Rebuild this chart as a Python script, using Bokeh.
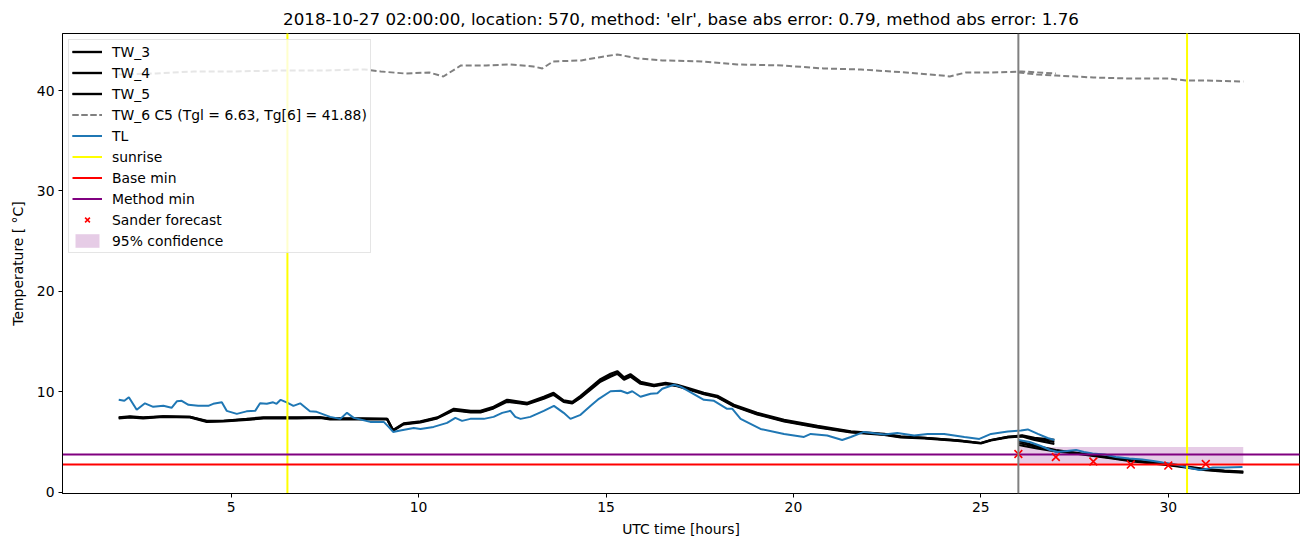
from bokeh.plotting import figure
from bokeh.models import Legend, LegendItem, Range1d, FixedTicker, Span
from bokeh.embed import file_html
from bokeh.resources import INLINE

title_text = "2018-10-27 02:00:00, location: 570, method: 'elr', base abs error: 0.79, method abs error: 1.76"

# ---- observed road/air temperatures (hours UTC) ----
tw_t = [2.0, 2.3, 2.65, 3.19, 3.9, 4.35, 4.8, 5.41, 5.86, 6.75, 7.37, 7.64, 8.5, 9.16, 9.32, 9.6,
        10.05, 10.5, 10.94, 11.39, 11.65, 12.0, 12.36, 12.72, 12.9, 13.34, 13.6, 13.87, 14.1, 14.32,
        14.59, 14.85, 15.12, 15.3, 15.48, 15.65, 15.92, 16.28, 16.59, 16.9, 17.26, 17.61, 17.97,
        18.41, 19.03, 19.75, 20.64, 21.53, 22.42, 22.86, 23.49, 24.38, 25.0, 25.27, 25.72, 26.1,
        26.43, 26.96]
tw3 = [7.4, 7.5, 7.4, 7.55, 7.5, 7.05, 7.1, 7.25, 7.4, 7.4, 7.45, 7.3, 7.3, 7.3, 6.15, 6.8,
       7.0, 7.4, 8.2, 8.0, 8.0, 8.4, 9.1, 8.9, 8.8, 9.4, 9.8, 9.06, 8.9, 9.45,
       10.3, 11.1, 11.6, 11.9, 11.3, 11.6, 10.9, 10.6, 10.8, 10.6, 10.2, 9.8, 9.5,
       8.6, 7.8, 7.1, 6.5, 6.0, 5.75, 5.5, 5.4, 5.15, 4.9, 5.2, 5.5, 5.65,
       5.4, 5.2]
tw4 = [7.45, 7.55, 7.45, 7.55, 7.5, 7.1, 7.1, 7.3, 7.45, 7.45, 7.45, 7.35, 7.35, 7.3, 6.2, 6.85,
       7.05, 7.45, 8.3, 8.1, 8.1, 8.5, 9.2, 9.0, 8.9, 9.5, 9.9, 9.15, 9.0, 9.6,
       10.45, 11.25, 11.8, 12.05, 11.45, 11.75, 11.0, 10.7, 10.9, 10.7, 10.3, 9.9, 9.6,
       8.7, 7.9, 7.2, 6.6, 6.05, 5.8, 5.55, 5.4, 5.15, 4.9, 5.2, 5.5, 5.6,
       5.3, 5.0]
tw5 = [7.35, 7.45, 7.35, 7.5, 7.45, 7.0, 7.05, 7.2, 7.35, 7.35, 7.4, 7.25, 7.25, 7.25, 6.1, 6.75,
       6.95, 7.35, 8.15, 7.95, 7.95, 8.35, 9.0, 8.85, 8.75, 9.3, 9.7, 9.0, 8.85, 9.4,
       10.2, 11.0, 11.5, 11.8, 11.2, 11.5, 10.8, 10.55, 10.75, 10.55, 10.15, 9.75, 9.45,
       8.55, 7.75, 7.05, 6.45, 5.95, 5.7, 5.45, 5.35, 5.1, 4.85, 5.15, 5.45, 5.55,
       5.2, 4.8]

tw6_t = [2.0, 3.0, 4.0, 5.0, 6.4, 7.5, 8.56, 8.99, 9.63, 10.28, 10.66, 11.13, 11.8, 12.41, 13.06,
         13.3, 13.59, 14.34, 14.8, 15.3, 15.84, 16.5, 17.55, 18.5, 19.7, 20.8, 21.8, 23.0, 23.96,
         24.17, 24.6, 25.3, 26.1, 27.0]
tw6 = [41.6, 41.7, 41.9, 41.9, 42.0, 42.0, 42.1, 41.9, 41.7, 41.8, 41.4, 42.5, 42.5, 42.6, 42.4,
       42.2, 42.9, 43.0, 43.3, 43.6, 43.2, 43.0, 42.9, 42.6, 42.5, 42.2, 42.1, 41.8, 41.5,
       41.4, 41.8, 41.8, 41.9, 41.7]

tl_t = [2.0, 2.15, 2.27, 2.48, 2.7, 2.92, 3.19, 3.41, 3.55, 3.68, 3.86, 4.12, 4.39, 4.52, 4.75,
        4.88, 5.15, 5.41, 5.64, 5.77, 5.95, 6.12, 6.21, 6.32, 6.48, 6.66, 6.84, 7.1, 7.28, 7.46,
        7.64, 7.91, 8.09, 8.27, 8.71, 9.07, 9.2, 9.32, 9.51, 9.87, 10.05, 10.4, 10.76, 10.98,
        11.16, 11.38, 11.74, 12.0, 12.23, 12.45, 12.58, 12.72, 12.98, 13.34, 13.61, 13.87, 14.05,
        14.32, 14.59, 14.81, 15.12, 15.39, 15.57, 15.7, 15.92, 16.19, 16.37, 16.5, 16.81, 16.99,
        17.26, 17.61, 17.88, 18.23, 18.37, 18.59, 19.12, 19.75, 20.28, 20.46, 20.9, 21.3, 21.53,
        21.88, 22.42, 22.77, 23.22, 23.58, 24.02, 24.56, 24.96, 25.27, 25.72, 26.07, 26.25,
        26.52, 26.78, 26.96]
tl = [9.2, 9.1, 9.45, 8.2, 8.85, 8.5, 8.6, 8.4, 9.05, 9.1, 8.7, 8.6, 8.6, 8.8, 8.95,
      8.1, 7.8, 8.05, 8.1, 8.85, 8.8, 8.95, 8.8, 9.2, 8.95, 8.6, 8.85, 8.05, 8.0, 7.75,
      7.5, 7.3, 7.9, 7.4, 7.0, 7.0, 6.5, 6.0, 6.15, 6.4, 6.3, 6.5, 6.9, 7.4,
      7.1, 7.3, 7.3, 7.5, 7.9, 8.1, 7.5, 7.3, 7.5, 8.1, 8.6, 7.9, 7.3,
      7.7, 8.6, 9.3, 10.05, 10.1, 9.85, 10.05, 9.5, 9.8, 9.85, 10.3, 10.7, 10.5,
      9.95, 9.2, 9.1, 8.3, 8.3, 7.3, 6.3, 5.8, 5.5, 5.8, 5.65, 5.2, 5.5,
      6.0, 5.75, 5.9, 5.65, 5.8, 5.8, 5.5, 5.3, 5.8, 6.05, 6.15, 6.25,
      5.8, 5.4, 5.2]

# ---- forecast part ----
fc_t = [26.0, 26.5, 27.0, 27.5, 28.0, 28.5, 29.0, 29.5, 30.0, 30.5, 31.0, 31.5, 32.0]
tw3_fc = [5.1, 4.6, 4.2, 3.95, 3.7, 3.45, 3.2, 3.0, 2.8, 2.55, 2.3, 2.15, 2.05]
tw4_fc = [4.9, 4.5, 4.15, 3.9, 3.65, 3.4, 3.15, 2.95, 2.75, 2.5, 2.25, 2.1, 2.0]
tw5_fc = [4.7, 4.35, 4.05, 3.85, 3.6, 3.35, 3.1, 2.9, 2.7, 2.45, 2.2, 2.05, 1.95]

tw6_fc_t = [26.0, 26.5, 27.0, 28.0, 29.0, 30.0, 30.5, 31.0, 32.0]
tw6_fc = [41.8, 41.6, 41.5, 41.3, 41.2, 41.2, 41.0, 41.0, 40.9]

tl_fc_t = [26.0, 26.3, 26.6, 26.85, 27.05, 27.3, 27.54, 27.75, 27.98, 28.3, 28.6, 28.96, 29.3,
           29.6, 29.85, 30.2, 30.47, 30.65, 30.83, 31.0, 31.19, 31.5, 31.98]
tl_fc = [5.2, 5.0, 4.6, 4.2, 4.0, 4.1, 4.2, 4.0, 3.85, 3.75, 3.5, 3.35, 3.25,
         3.1, 2.95, 2.75, 2.5, 2.35, 2.2, 2.3, 2.45, 2.45, 2.5]

sander_t = [26, 27, 28, 29, 30, 31]
sander = [3.8, 3.5, 3.05, 2.75, 2.65, 2.8]

conf_t = [26, 32]
conf_lo = [2.85, 2.85]
conf_hi = [4.5, 4.5]

sunrise = [6.5, 30.5]
forecast_start = 26
base_min = 2.75
method_min = 3.75

x_ticks = [5, 10, 15, 20, 25, 30]
y_ticks = [0, 10, 20, 30, 40]

# ---- autoscale like matplotlib (5% margins) ----
all_x = tw_t + tw6_t + tl_t + fc_t + tw6_fc_t + tl_fc_t + conf_t
all_y = tw3 + tw4 + tw5 + tw6 + tl + tw3_fc + tw4_fc + tw5_fc + tw6_fc + tl_fc + sander + conf_lo + conf_hi
xmin, xmax = min(all_x), max(all_x)
ymin, ymax = min(all_y), max(all_y)
xpad = 0.05 * (xmax - xmin)
ypad = 0.05 * (ymax - ymin)
x_lo, x_hi = xmin - xpad, xmax + xpad
y_lo, y_hi = ymin - ypad, ymax + ypad

FONT = "DejaVu Sans"

p = figure(width=1310, height=547, x_range=Range1d(x_lo, x_hi), y_range=Range1d(y_lo, y_hi),
           output_backend="svg", toolbar_location=None, title=title_text,
           min_border_left=62, min_border_right=11, min_border_top=33, min_border_bottom=54,
           x_axis_label="UTC time [hours]", y_axis_label="Temperature [ °C]")
p.background_fill_color = "white"
p.border_fill_color = "white"
p.xgrid.visible = False
p.ygrid.visible = False
p.outline_line_color = "black"
p.outline_line_alpha = 1.0
p.outline_line_width = 1

p.title.align = "center"
p.title.text_font = FONT
p.title.text_font_size = "16.7px"
p.title.text_font_style = "normal"
p.title.text_color = "black"

p.xaxis.ticker = FixedTicker(ticks=x_ticks)
p.yaxis.ticker = FixedTicker(ticks=y_ticks)
for ax in (p.xaxis[0], p.yaxis[0]):
    ax.major_tick_in = 0
    ax.major_tick_out = 4
    ax.minor_tick_in = 0
    ax.minor_tick_out = 0
    ax.axis_line_color = "black"
    ax.major_tick_line_color = "black"
    ax.major_label_text_font = FONT
    ax.major_label_text_font_size = "13.9px"
    ax.major_label_text_color = "black"
    ax.axis_label_text_font = FONT
    ax.axis_label_text_font_size = "13.9px"
    ax.axis_label_text_font_style = "normal"
    ax.axis_label_text_color = "black"
    ax.major_label_standoff = 4
    ax.axis_label_standoff = 6
p.yaxis[0].axis_label_standoff = 8

# confidence band (below lines)
r_conf = p.varea(x=conf_t, y1=conf_lo, y2=conf_hi, fill_color="purple", fill_alpha=0.2)

# black road-temperature series
LW_TW = 2.2
r3 = p.line(tw_t, tw3, line_color="black", line_width=LW_TW)
r3f = p.line(fc_t, tw3_fc, line_color="black", line_width=LW_TW)
r4 = p.line(tw_t, tw4, line_color="black", line_width=LW_TW)
r4f = p.line(fc_t, tw4_fc, line_color="black", line_width=LW_TW)
r5 = p.line(tw_t, tw5, line_color="black", line_width=LW_TW)
r5f = p.line(fc_t, tw5_fc, line_color="black", line_width=LW_TW)

r6 = p.line(tw6_t, tw6, line_color="gray", line_width=2, line_dash="6 3")
r6f = p.line(tw6_fc_t, tw6_fc, line_color="gray", line_width=2, line_dash="6 3")

rtl = p.line(tl_t, tl, line_color="#1f77b4", line_width=2)
rtlf = p.line(tl_fc_t, tl_fc, line_color="#1f77b4", line_width=2)

# vertical / horizontal reference lines
r_sun = p.segment(x0=sunrise, y0=[y_lo - 10] * len(sunrise), x1=sunrise, y1=[y_hi + 10] * len(sunrise),
                  line_color="yellow", line_width=2)
r_base = p.segment(x0=[x_lo - 10], y0=[base_min], x1=[x_hi + 10], y1=[base_min],
                   line_color="red", line_width=2)
r_meth = p.segment(x0=[x_lo - 10], y0=[method_min], x1=[x_hi + 10], y1=[method_min],
                   line_color="purple", line_width=2)
p.add_layout(Span(location=forecast_start, dimension="height", line_color="gray", line_width=2))

r_sander = p.scatter(sander_t, sander, marker="x", size=11, line_color="red", line_width=1.6)

legend = Legend(items=[
    LegendItem(label="TW_3", renderers=[r3, r3f]),
    LegendItem(label="TW_4", renderers=[r4, r4f]),
    LegendItem(label="TW_5", renderers=[r5, r5f]),
    LegendItem(label="TW_6 C5 (Tgl = 6.63, Tg[6] = 41.88)", renderers=[r6, r6f]),
    LegendItem(label="TL", renderers=[rtl, rtlf]),
    LegendItem(label="sunrise", renderers=[r_sun]),
    LegendItem(label="Base min", renderers=[r_base]),
    LegendItem(label="Method min", renderers=[r_meth]),
    LegendItem(label="Sander forecast", renderers=[r_sander]),
    LegendItem(label="95% confidence", renderers=[r_conf]),
], location="top_left")
legend.margin = 6
legend.padding = 3
legend.spacing = 4
legend.glyph_width = 30
legend.glyph_height = 17
legend.label_height = 17
legend.label_standoff = 10
legend.label_text_font = FONT
legend.label_text_font_size = "13.9px"
legend.label_text_color = "black"
legend.border_line_color = "#cccccc"
legend.border_line_width = 1
legend.background_fill_color = "white"
legend.background_fill_alpha = 0.8
p.add_layout(legend)

open("out.html", "w").write(file_html(p, INLINE))
